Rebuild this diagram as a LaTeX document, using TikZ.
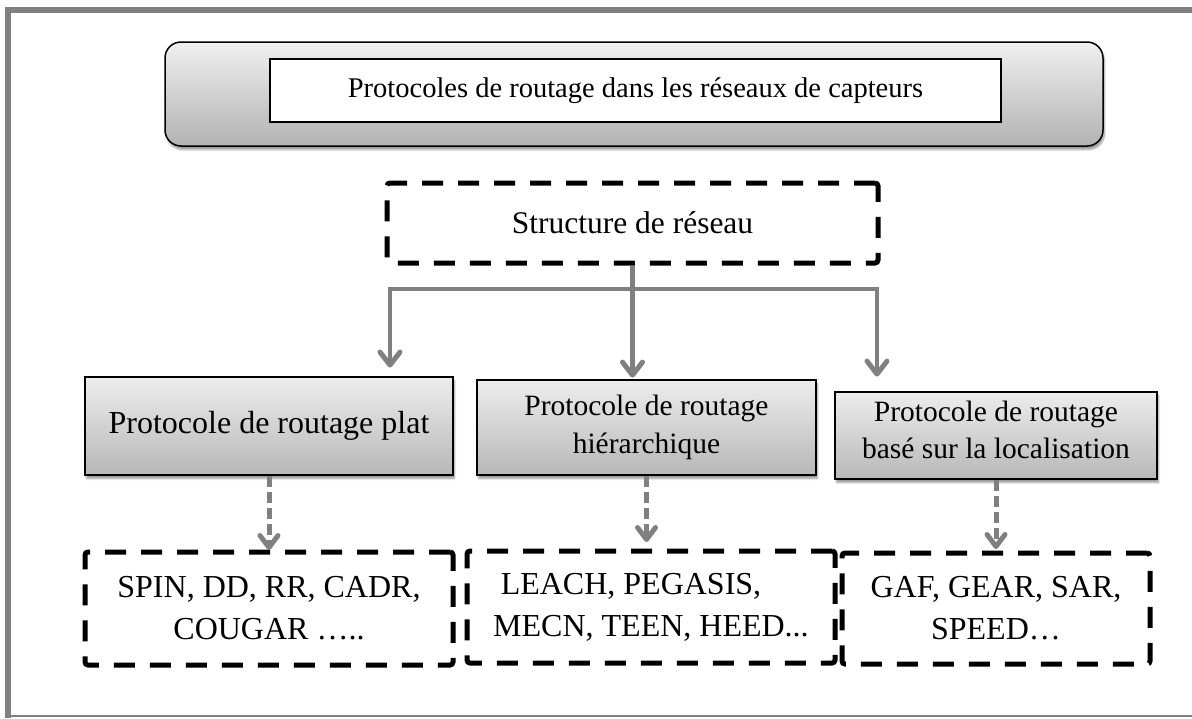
\documentclass[tikz,border=0pt]{standalone}
\usepackage{fontspec}
\setmainfont{Liberation Serif}
\usetikzlibrary{calc,shadows.blur}
\begin{document}
\begin{tikzpicture}[x=1pt,y=-1pt,
  framecol/.style={draw=black!50},
  softshadow/.style={blur shadow={shadow xshift=1.5pt,shadow yshift=-3.5pt,shadow blur steps=6,shadow opacity=40}},
  topbox/.style={draw=black,line width=1.5pt,rounded corners=16pt,top color=black!6,bottom color=black!30,softshadow},
  titlebox/.style={draw=black,line width=1.1pt,fill=white,font=\fontsize{28.5}{36}\selectfont},
  midbox/.style={draw=black,line width=1.8pt,top color=black!7,bottom color=black!28,softshadow,align=center,inner sep=0pt},
  dbox/.style={draw=black,line width=5pt,dash pattern=on 21pt off 15pt,rounded corners=3pt,align=center,inner sep=0pt,font=\fontsize{32}{42}\selectfont},
  conn/.style={draw=black!50,line width=4.5pt,line join=miter},
  dconn/.style={draw=black!50,line width=5pt,dash pattern=on 11pt off 5pt},
  chevron/.style={draw=black!50,line width=5pt,line cap=round,line join=round}
]
\useasboundingbox (0,0) rectangle (1192,718);

% page frame
\draw[framecol,line width=6pt] (8,718) -- (8,10) -- (1192,10);
\draw[framecol,line width=1.8pt] (5,716) -- (1192,716);

% title
\node[topbox,minimum width=938pt,minimum height=104pt] (top) at (634,94) {};
\node[titlebox,minimum width=731pt,minimum height=63pt] (title) at (635.5,90.5)
  {Protocoles de routage dans les réseaux de capteurs};

% criterion
\node[dbox,minimum width=491pt,minimum height=80pt,font=\fontsize{31.5}{40}\selectfont] (struct) at (632.5,223) {Structure de réseau};

% protocol families
\node[midbox,minimum width=368pt,minimum height=98pt,font=\fontsize{32}{42}\selectfont] (p1) at (269,426)
  {Protocole de routage plat};
\node[midbox,minimum width=339pt,minimum height=95pt,font=\fontsize{29.5}{38}\selectfont] (p2) at (646.5,427.5)
  {Protocole de routage\\hiérarchique};
\node[midbox,minimum width=322pt,minimum height=87pt,
  label={[yshift=6pt,align=center,inner sep=0pt,font=\fontsize{29.5}{37}\selectfont]center:Protocole de routage\\basé sur la localisation}] (p3) at (996,435.5) {};

% examples
\node[dbox,minimum width=368pt,minimum height=113pt] (e1) at (269,608.5)
  {SPIN, DD, RR, CADR,\\COUGAR …..};
\node[dbox,minimum width=368pt,minimum height=112pt] (e2) at (651,607)
  {LEACH, PEGASIS,\hspace*{40pt}\\MECN, TEEN, HEED...};
\node[dbox,minimum width=308pt,minimum height=111pt] (e3) at (996,608.5)
  {GAF, GEAR, SAR,\\SPEED…};

% tree connectors
\coordinate (hl) at (390,289);
\coordinate (hr) at (877,289);
\coordinate (t1) at ($(hl |- p1.north)+(0,-11)$);
\coordinate (t2) at ($(struct.south |- p2.north)+(0,-4)$);
\coordinate (t3) at ($(hr |- p3.north)+(0,-17)$);
\draw[conn] (t1) -- (hl) -- (hr) -- (t3);
\draw[conn] (struct.south) -- (t2);
\foreach \t in {t1,t2,t3}
  \draw[chevron] ($(\t)+(-10,-13)$) -- (\t) -- ($(\t)+(10,-13)$);

% dashed links to the examples
\coordinate (d1) at ($(p1.south |- e1.north)+(0,-2)$);
\coordinate (d2) at ($(p2.south |- e2.north)+(0,-9)$);
\coordinate (d3) at ($(p3.south |- e3.north)+(0,-4)$);
\draw[dconn] (p1.south) -- (d1);
\draw[dconn] (p2.south) -- (d2);
\draw[dconn] (p3.south) -- (d3);
\foreach \t in {d1,d2,d3}
  \draw[chevron] ($(\t)+(-9,-12)$) -- (\t) -- ($(\t)+(9,-12)$);
\end{tikzpicture}
\end{document}
